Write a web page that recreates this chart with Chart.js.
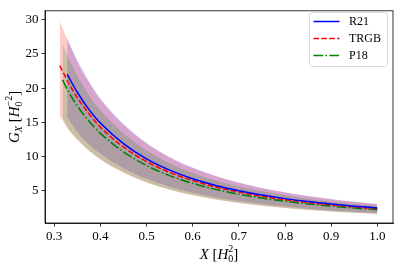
<!DOCTYPE html>
<html>
<head>
<meta charset="utf-8">
<script src="https://cdn.jsdelivr.net/npm/chart.js@4.4.1/dist/chart.umd.min.js"></script>
<style>
  html, body { margin: 0; padding: 0; background: #fff; }
  #wrap { width: 400px; height: 267px; }
</style>
</head>
<body>
<div id="wrap"><canvas id="chart" width="400" height="267"></canvas></div>
<script>
// Valeurs
const xTicks = [0.3, 0.4, 0.5, 0.6, 0.7, 0.8, 0.9, 1.0];
const yTicks = [5, 10, 15, 20, 25, 30];

// R21 (bleu)
const xR21 = [0.328, 0.35, 0.375, 0.4, 0.45, 0.5, 0.55, 0.6, 0.65, 0.7, 0.75, 0.8, 0.85, 0.9, 0.95, 1.0];
const gR21 = [22.0, 19.4, 16.9, 14.9, 11.9, 9.66, 8.02, 6.77, 5.79, 5.01, 4.38, 3.86, 3.43, 3.07, 2.76, 2.50];
const gR21Up = [27.3, 24.1, 21.0, 18.5, 14.8, 12.0, 9.94, 8.39, 7.18, 6.21, 5.43, 4.79, 4.25, 3.81, 3.42, 3.10];
const gR21Lo = [15.8, 13.6, 11.8, 10.4, 8.31, 6.75, 5.60, 4.72, 4.04, 3.50, 3.06, 2.70, 2.40, 2.14, 1.93, 1.75];

// TRGB (rouge)
const xTRGB = [0.312, 0.33, 0.35, 0.375, 0.4, 0.45, 0.5, 0.55, 0.6, 0.65, 0.7, 0.75, 0.8, 0.85, 0.9, 0.95, 1.0];
const gTRGB = [23.3, 20.9, 18.6, 16.3, 14.3, 11.4, 9.27, 7.70, 6.50, 5.56, 4.81, 4.20, 3.71, 3.30, 2.95, 2.65, 2.40];
const gTRGBUp = [29.8, 26.8, 23.8, 20.9, 18.3, 14.6, 11.9, 9.86, 8.32, 7.12, 6.16, 5.38, 4.75, 4.22, 3.78, 3.39, 3.07];
const gTRGBLo = [16.0, 14.0, 12.5, 10.9, 9.58, 7.64, 6.21, 5.16, 4.36, 3.73, 3.22, 2.81, 2.49, 2.21, 1.98, 1.78, 1.61];

// P18 (vert)
const xP18 = [0.318, 0.33, 0.35, 0.375, 0.4, 0.45, 0.5, 0.55, 0.6, 0.65, 0.7, 0.75, 0.8, 0.85, 0.9, 0.95, 1.0];
const gP18 = [21.2, 19.6, 17.4, 15.2, 13.4, 10.7, 8.69, 7.22, 6.09, 5.21, 4.51, 3.94, 3.47, 3.09, 2.76, 2.48, 2.25];
const gP18Up = [26.5, 24.5, 21.8, 19.0, 16.8, 13.4, 10.9, 9.03, 7.61, 6.51, 5.64, 4.93, 4.34, 3.86, 3.45, 3.10, 2.81];
const gP18Lo = [15.6, 14.1, 12.5, 10.9, 9.65, 7.70, 6.26, 5.20, 4.38, 3.75, 3.25, 2.84, 2.50, 2.22, 1.99, 1.79, 1.62];

const SERIF = "'Liberation Serif', 'Times New Roman', serif";

function pts(xs, ys) {
  return xs.map((x, i) => ({ x: x, y: ys[i] }));
}

// bande = courbe haute remplie jusqu'a la courbe basse ; order plus grand = dessine dessous
function band(xs, up, lo, color, order) {
  return [
    { data: pts(xs, up), fill: '+1', backgroundColor: color, borderWidth: 0, pointRadius: 0, order: order, isBand: true },
    { data: pts(xs, lo), fill: false, borderWidth: 0, pointRadius: 0, order: order, isBand: true },
  ];
}

function line(label, xs, ys, color, dash) {
  return {
    label: label,
    data: pts(xs, ys),
    borderColor: color,
    borderWidth: 1.5,
    borderDash: dash,
    pointRadius: 0,
    fill: false,
    order: 0,
  };
}

const datasets = [
  ...band(xR21, gR21Up, gR21Lo, 'rgba(0,0,255,0.2)', 5),
  ...band(xTRGB, gTRGBUp, gTRGBLo, 'rgba(255,0,0,0.2)', 4),
  ...band(xP18, gP18Up, gP18Lo, 'rgba(0,128,0,0.2)', 3),
  line('R21', xR21, gR21, '#0000ff', []),
  line('TRGB', xTRGB, gTRGB, '#ff0000', [5.5, 2.4]),
  line('P18', xP18, gP18, '#008000', [9.6, 2.4, 1.5, 2.4]),
];

// Texte avec indices / exposants
function drawRuns(ctx, runs, x, y, align) {
  const base = 15;
  const widthOf = r => {
    ctx.font = (r.it ? 'italic ' : '') + (r.size || base) + 'px ' + SERIF;
    return ctx.measureText(r.t).width;
  };
  let total = 0;
  runs.forEach(r => {
    if (r.stack) total += Math.max(...r.stack.map(widthOf));
    else total += widthOf(r);
  });
  let cx = align === 'center' ? x - total / 2 : x;
  ctx.textBaseline = 'alphabetic';
  ctx.textAlign = 'left';
  runs.forEach(r => {
    const parts = r.stack || [r];
    let w = 0;
    parts.forEach(p => {
      ctx.font = (p.it ? 'italic ' : '') + (p.size || base) + 'px ' + SERIF;
      ctx.fillText(p.t, cx, y + (p.dy || 0));
      w = Math.max(w, ctx.measureText(p.t).width);
    });
    cx += w;
  });
}

const decorPlugin = {
  id: 'decor',
  afterDraw(chart) {
    const { ctx, chartArea: a } = chart;
    ctx.save();
    // cadre
    ctx.strokeStyle = '#000';
    ctx.lineWidth = 0.8;
    ctx.strokeRect(a.left, a.top, a.right - a.left, a.bottom - a.top);

    ctx.fillStyle = '#000';
    // titre axe x
    drawRuns(ctx, [
      { t: 'X', it: true },
      { t: ' [' },
      { t: 'H', it: true },
      { stack: [{ t: '0', size: 10, dy: 3 }, { t: '2', size: 10, dy: -7 }] },
      { t: ']' },
    ], (a.left + a.right) / 2, 259, 'center');

    // titre axe y
    ctx.save();
    ctx.translate(19, (a.top + a.bottom) / 2);
    ctx.rotate(-Math.PI / 2);
    drawRuns(ctx, [
      { t: 'G', it: true },
      { t: 'X', it: true, size: 10, dy: 3 },
      { t: ' [' },
      { t: 'H', it: true },
      { stack: [{ t: '0', size: 10, dy: 3 }, { t: '−2', size: 10, dy: -7 }] },
      { t: ']' },
    ], 0, 0, 'center');
    ctx.restore();

    // légende
    const lx = 309.5, ly = 12.5, lw = 78, lh = 54;
    ctx.beginPath();
    ctx.roundRect(lx, ly, lw, lh, 3);
    ctx.fillStyle = 'rgba(255,255,255,0.8)';
    ctx.fill();
    ctx.strokeStyle = '#d9d9d9';
    ctx.lineWidth = 1;
    ctx.stroke();
    const rows = chart.data.datasets.filter(d => !d.isBand);
    rows.forEach((d, i) => {
      const yy = 21.5 + i * 17;
      ctx.beginPath();
      ctx.setLineDash(d.borderDash || []);
      ctx.strokeStyle = d.borderColor;
      ctx.lineWidth = 1.5;
      ctx.moveTo(313.5, yy);
      ctx.lineTo(339.5, yy);
      ctx.stroke();
      ctx.setLineDash([]);
      ctx.fillStyle = '#000';
      ctx.font = '12px ' + SERIF;
      ctx.textBaseline = 'middle';
      ctx.textAlign = 'left';
      ctx.fillText(d.label, 349, yy + 0.5);
    });
    ctx.restore();
  },
};

new Chart(document.getElementById('chart'), {
  type: 'line',
  data: { datasets: datasets },
  options: {
    responsive: false,
    animation: false,
    layout: { padding: { left: 0, right: 7, top: 6, bottom: 0 } },
    elements: { line: { cubicInterpolationMode: 'monotone' } },
    plugins: {
      legend: { display: false },
      tooltip: { enabled: false },
      filler: { propagate: false },
    },
    scales: {
      x: {
        type: 'linear',
        min: 0.28,
        max: 1.034,
        afterBuildTicks: s => { s.ticks = xTicks.map(v => ({ value: v })); },
        afterFit: s => { s.height = 44; },
        grid: { display: true, drawOnChartArea: false, color: '#000', tickLength: 3.5, tickWidth: 0.8 },
        border: { display: true, color: '#000', width: 0.8 },
        ticks: {
          color: '#000',
          padding: 2,
          maxRotation: 0,
          font: { family: SERIF, size: 13 },
          callback: v => v.toFixed(1),
        },
      },
      y: {
        type: 'linear',
        min: 0.3,
        max: 31.3,
        afterBuildTicks: s => { s.ticks = yTicks.map(v => ({ value: v })); },
        afterFit: s => { s.width = 45; },
        grid: { display: true, drawOnChartArea: false, color: '#000', tickLength: 3.5, tickWidth: 0.8 },
        border: { display: true, color: '#000', width: 0.8 },
        ticks: {
          color: '#000',
          padding: 3,
          font: { family: SERIF, size: 13 },
          callback: v => String(v),
        },
      },
    },
  },
  plugins: [decorPlugin],
});
</script>
</body>
</html>
